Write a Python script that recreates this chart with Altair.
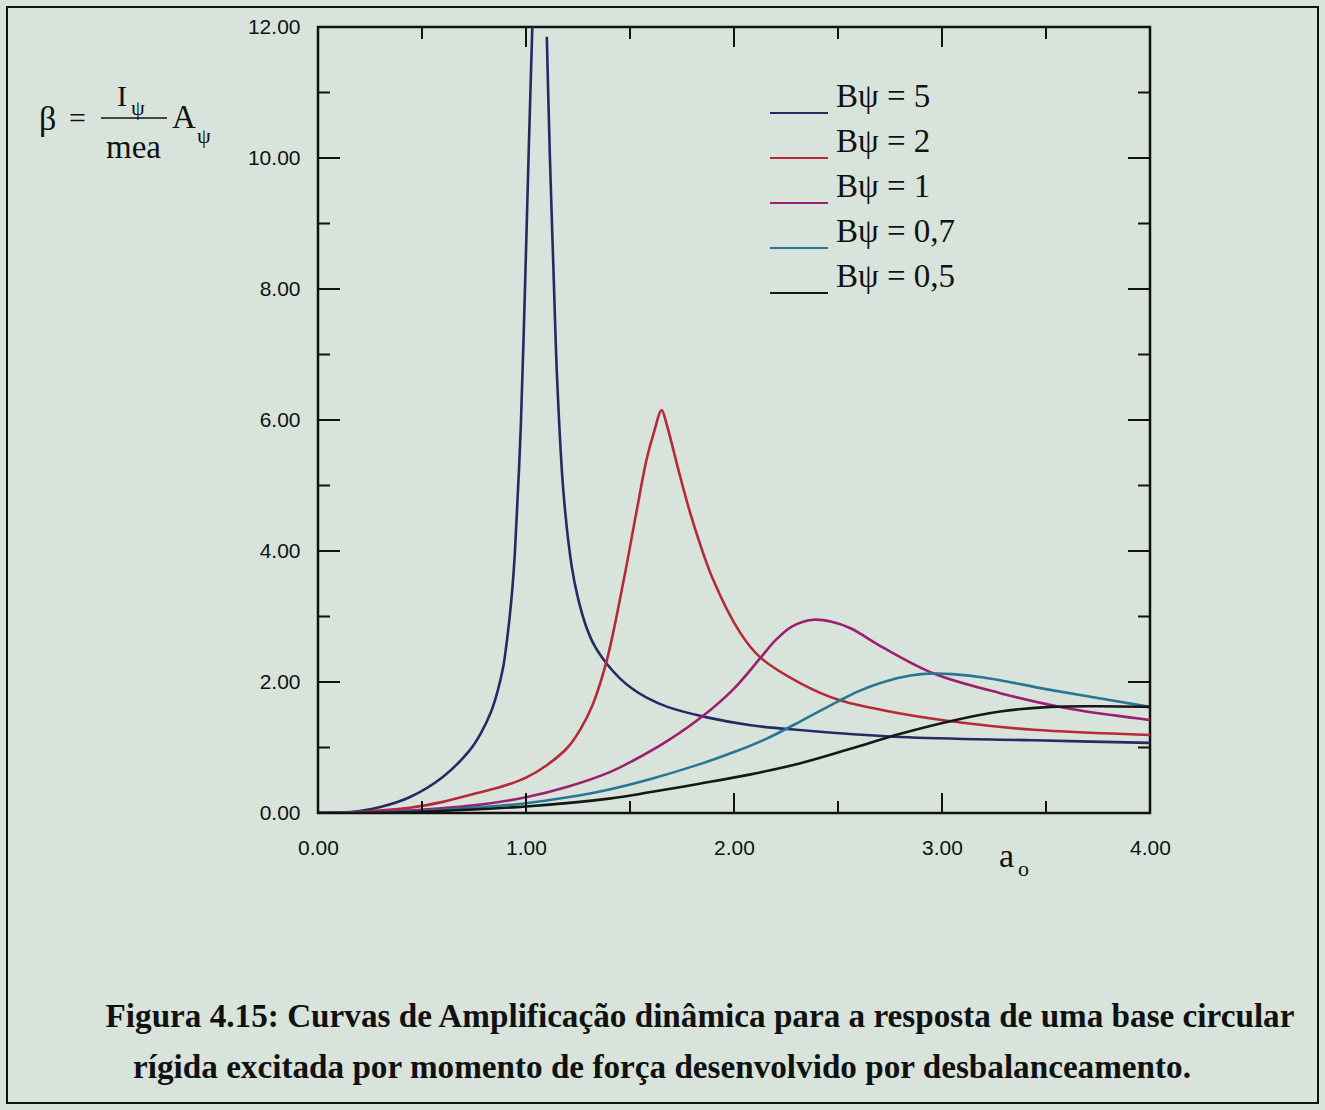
import altair as alt
import pandas as pd

# ---------------- data ----------------
series_names = ["Bψ = 5", "Bψ = 2", "Bψ = 1", "Bψ = 0,7", "Bψ = 0,5"]
series_colors = ["#262a63", "#b42a38", "#9c1f70", "#277694", "#161616"]

b5_left_x = [0.0, 0.1, 0.2, 0.3, 0.44, 0.6, 0.73, 0.78, 0.83, 0.86, 0.89, 0.905, 0.92, 0.935, 0.947,
             0.975, 0.995, 1.013, 1.035]
b5_left_y = [0.0, 0.005, 0.03, 0.09, 0.24, 0.55, 0.96, 1.2, 1.53, 1.82, 2.22, 2.55, 2.95, 3.45, 4.0,
             5.9, 8.0, 10.1, 12.5]
b5_right_x = [1.10, 1.115, 1.132, 1.15, 1.18, 1.22, 1.25, 1.29, 1.33, 1.39, 1.45, 1.51, 1.58, 1.68,
              1.87, 2.08, 2.30, 2.8, 3.44, 4.0]
b5_right_y = [11.85, 10.0, 8.3, 6.6, 4.9, 3.76, 3.28, 2.84, 2.55, 2.27, 2.06, 1.9, 1.76, 1.62,
              1.46, 1.34, 1.27, 1.16, 1.11, 1.07]

b2_x = [0.0, 0.2, 0.44, 0.6, 0.76, 0.9, 1.0, 1.1, 1.2, 1.26, 1.32, 1.39, 1.47, 1.53, 1.58, 1.614, 1.652,
        1.675, 1.70, 1.74, 1.80, 1.90, 2.03, 2.125, 2.32, 2.51, 2.80, 3.12, 3.44, 4.0]
b2_y = [0.0, 0.02, 0.08, 0.17, 0.30, 0.42, 0.54, 0.73, 1.0, 1.27, 1.65, 2.35, 3.56, 4.58, 5.4, 5.8, 6.15,
        5.95, 5.65, 5.15, 4.47, 3.56, 2.75, 2.38, 1.98, 1.72, 1.52, 1.37, 1.27, 1.19]

b1_x = [0.0, 0.3, 0.5, 0.76, 1.0, 1.2, 1.4, 1.51, 1.68, 1.85, 2.0, 2.125, 2.2, 2.28, 2.38, 2.47,
        2.56, 2.72, 2.96, 3.28, 3.6, 4.0]
b1_y = [0.0, 0.02, 0.05, 0.12, 0.24, 0.40, 0.62, 0.79, 1.10, 1.48, 1.9, 2.36, 2.64, 2.85, 2.95, 2.92,
        2.82, 2.52, 2.13, 1.83, 1.60, 1.42]

b07_x = [0.0, 0.3, 0.6, 1.0, 1.2, 1.4, 1.6, 1.84, 2.0, 2.16, 2.32, 2.51, 2.6, 2.7, 2.8, 2.9, 2.97, 3.05,
         3.2, 3.52, 4.0]
b07_y = [0.0, 0.01, 0.05, 0.15, 0.24, 0.36, 0.52, 0.75, 0.93, 1.14, 1.40, 1.72, 1.86, 1.98, 2.07, 2.12,
         2.13, 2.12, 2.07, 1.88, 1.62]

b05_x = [0.0, 0.5, 1.0, 1.4, 1.6, 1.84, 2.08, 2.32, 2.56, 2.80, 3.05, 3.28, 3.52, 3.75, 4.0]
b05_y = [0.0, 0.02, 0.10, 0.22, 0.32, 0.45, 0.59, 0.76, 0.98, 1.21, 1.41, 1.55, 1.62, 1.63, 1.62]

x_major = [0, 1, 2, 3, 4]
x_minor = [0.5, 1.5, 2.5, 3.5]
y_major = [0, 2, 4, 6, 8, 10, 12]
y_minor = [1, 3, 5, 7, 9, 11]

caption_1 = "Figura 4.15: Curvas de Amplificação dinâmica para a resposta de uma base circular"
caption_2 = "rígida excitada por momento de força desenvolvido por desbalanceamento."

# ---------------- layout ----------------
LEFT, TOP = 318, 27
W, H = 832, 786
RIGHT = 1325 - LEFT - W
BOTTOM = 1110 - TOP - H
BG = "#d8e3db"


def px(x):
    return x - LEFT


def py(y):
    return y - TOP


rows = []
pieces = [
    (series_names[0], "a", b5_left_x, b5_left_y),
    (series_names[0], "b", b5_right_x, b5_right_y),
    (series_names[1], "a", b2_x, b2_y),
    (series_names[2], "a", b1_x, b1_y),
    (series_names[3], "a", b07_x, b07_y),
    (series_names[4], "a", b05_x, b05_y),
]
for name, seg, xs, ys in pieces:
    for xv, yv in zip(xs, ys):
        rows.append({"serie": name, "seg": name + seg, "a": xv, "b": yv})
df = pd.DataFrame(rows)

xscale = alt.Scale(domain=[0, 4], nice=False, zero=False)
yscale = alt.Scale(domain=[0, 12], nice=False, zero=False)

x_axis = alt.Axis(values=x_major, format=".2f", title=None, ticks=False, tickSize=0,
                  domain=False, grid=False, labelPadding=24, labelFont="Liberation Sans",
                  labelFontSize=21, labelColor="#111111", labelFlush=False)
y_axis = alt.Axis(values=y_major, format=".2f", title=None, ticks=False, tickSize=0,
                  domain=False, grid=False, labelPadding=18, labelFont="Liberation Sans",
                  labelFontSize=21, labelColor="#111111", labelFlush=False)

lines = alt.Chart(df).mark_line(clip=True, strokeWidth=2.6, interpolate="catmull-rom").encode(
    x=alt.X("a:Q", scale=xscale, axis=x_axis),
    y=alt.Y("b:Q", scale=yscale, axis=y_axis),
    color=alt.Color("serie:N", scale=alt.Scale(domain=series_names, range=series_colors), legend=None),
    detail="seg:N",
)

tick_color = "#111111"


def xticks(vals, length, top):
    d = pd.DataFrame({"a": vals})
    if top:
        enc = dict(y=alt.value(0), y2=alt.value(length))
    else:
        enc = dict(y=alt.value(H), y2=alt.value(H - length))
    return alt.Chart(d).mark_rule(color=tick_color, strokeWidth=2).encode(
        x=alt.X("a:Q", scale=xscale, axis=x_axis), **enc)


def yticks(vals, length, right):
    d = pd.DataFrame({"b": vals})
    if right:
        enc = dict(x=alt.value(W), x2=alt.value(W - length))
    else:
        enc = dict(x=alt.value(0), x2=alt.value(length))
    return alt.Chart(d).mark_rule(color=tick_color, strokeWidth=2).encode(
        y=alt.Y("b:Q", scale=yscale, axis=y_axis), **enc)


ticks = [
    xticks(x_major, 20, False), xticks(x_minor, 12, False),
    xticks(x_major, 20, True), xticks(x_minor, 12, True),
    yticks(y_major, 22, False), yticks(y_minor, 12, False),
    yticks(y_major, 22, True), yticks(y_minor, 12, True),
]

one = pd.DataFrame({"k": [0]})


def text(t, x, y, size, font="Liberation Serif", weight="normal", align="left", baseline="middle"):
    return alt.Chart(pd.DataFrame({"t": [t]})).mark_text(
        font=font, fontSize=size, fontWeight=weight, align=align, baseline=baseline, color="#111111"
    ).encode(text="t:N", x=alt.value(px(x)), y=alt.value(py(y)))


# legend (custom: short line under-left of each label)
legend_layers = []
label_y0, step = 97, 45
for i, (name, col) in enumerate(zip(series_names, series_colors)):
    ty = label_y0 + i * step
    ly = ty + 16
    legend_layers.append(
        alt.Chart(one).mark_rule(color=col, strokeWidth=2).encode(
            x=alt.value(px(770)), x2=alt.value(px(828)), y=alt.value(py(ly)))
    )
    legend_layers.append(text(name, 836, ty, 33))

# formula
formula = [
    text("β", 39, 120, 34),
    text("=", 69, 119, 30),
    alt.Chart(one).mark_rule(color="#111111", strokeWidth=1.5).encode(
        x=alt.value(px(101)), x2=alt.value(px(167)), y=alt.value(py(118))),
    text("I", 117, 97, 30),
    text("ψ", 131, 108, 22),
    text("mea", 106, 148, 33),
    text("A", 172, 118, 33),
    text("ψ", 197, 136, 22),
]

# x axis label a_o
ao = [text("a", 999, 857, 34), text("o", 1018, 869, 22)]

caption = [
    text(caption_1, 700, 1017, 33.2, weight="bold", align="center"),
    text(caption_2, 662, 1068, 33.2, weight="bold", align="center"),
]

border = alt.Chart(one).mark_rect(fillOpacity=0, stroke="#111111", strokeWidth=2).encode(
    x=alt.value(px(7)), x2=alt.value(px(1318)), y=alt.value(py(7)), y2=alt.value(py(1103)))

chart = alt.layer(
    lines, *ticks, *legend_layers, *formula, *ao, *caption, border
).properties(
    width=W, height=H,
    padding={"left": LEFT, "top": TOP, "right": RIGHT, "bottom": BOTTOM},
    autosize=alt.AutoSizeParams(type="none"),
    background=BG,
).configure_view(
    stroke="#111111", strokeWidth=2.5
)

chart.save("out.html", embed_options={"renderer": "svg", "actions": False})
